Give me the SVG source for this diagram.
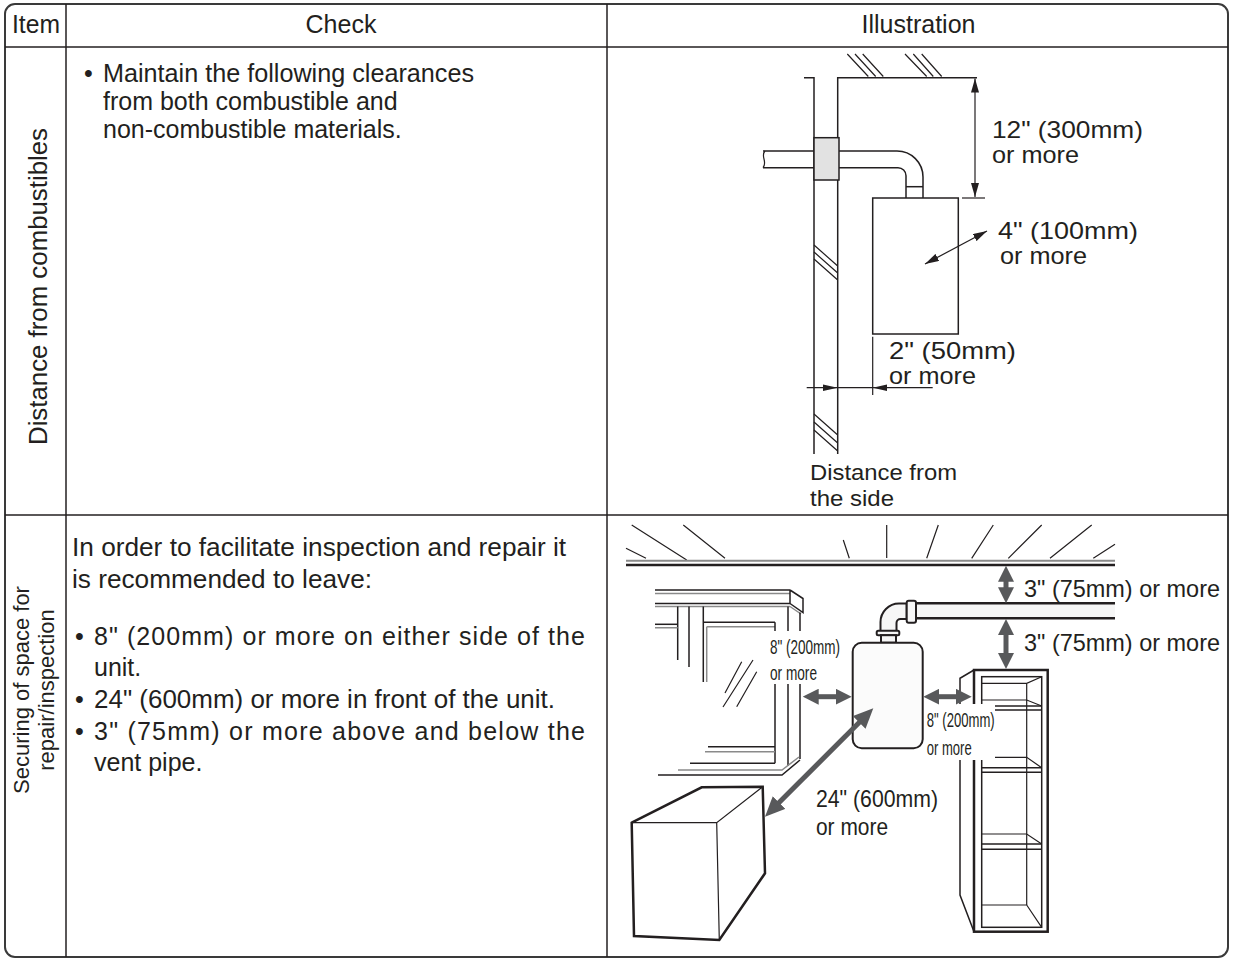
<svg xmlns="http://www.w3.org/2000/svg" width="1234" height="961" viewBox="0 0 1234 961">
<defs>
<style>
text{font-family:"Liberation Sans",Arial,Helvetica,sans-serif;fill:#231f20}
.t25{font-size:25px}
.t24{font-size:24px}
.t22{font-size:22px}
.t21{font-size:21px}
.ln{fill:none;stroke:#231f20;stroke-width:1.5}
.lt{fill:none;stroke:#231f20;stroke-width:1.2}
.gr{fill:none;stroke:#8a8a8a;stroke-width:1.5}
.thk{fill:none;stroke:#231f20;stroke-width:2.5}
.tbl{fill:none;stroke:#3a3a3a;stroke-width:2}
.big{fill:none;stroke:#58595b;stroke-width:5}
.wb{fill:#ffffff;stroke:none}
</style>
<marker id="ah" markerUnits="userSpaceOnUse" viewBox="0 0 14 8" markerWidth="14" markerHeight="8" refX="14" refY="4" orient="auto-start-reverse"><path d="M0,0 L14,4 L0,8 z" fill="#231f20"/></marker>
<marker id="bg" markerUnits="userSpaceOnUse" viewBox="0 0 16 16" markerWidth="16" markerHeight="16" refX="4" refY="8" orient="auto-start-reverse"><path d="M0,0 L16,8 L0,16 z" fill="#58595b"/></marker>
<marker id="bg2" markerUnits="userSpaceOnUse" viewBox="0 0 20 18" markerWidth="20" markerHeight="18" refX="5" refY="9" orient="auto-start-reverse"><path d="M0,0 L20,9 L0,18 z" fill="#58595b"/></marker>
</defs>

<g id="table">
<rect x="5" y="4" width="1223" height="953" rx="10" class="tbl"/>
<line x1="66" y1="4" x2="66" y2="957" class="ln"/>
<line x1="607" y1="4" x2="607" y2="957" class="ln"/>
<line x1="5" y1="47" x2="1228" y2="47" class="ln"/>
<line x1="5" y1="515" x2="1228" y2="515" class="ln"/>
</g>

<g id="header">
<text x="36" y="33" text-anchor="middle" class="t25" textLength="48" lengthAdjust="spacingAndGlyphs">Item</text>
<text x="341" y="33" text-anchor="middle" class="t25">Check</text>
<text x="918.5" y="33" text-anchor="middle" class="t25">Illustration</text>
</g>

<g id="row1-item">
<text transform="translate(47,286.5) rotate(-90)" text-anchor="middle" class="t25" textLength="317" lengthAdjust="spacingAndGlyphs">Distance from combustibles</text>
</g>

<g id="row1-check">
<text x="84" y="82" class="t25">•</text>
<text x="103" y="82" class="t25" textLength="371" lengthAdjust="spacingAndGlyphs">Maintain the following clearances</text>
<text x="103" y="110" class="t25">from both combustible and</text>
<text x="103" y="138" class="t25">non-combustible materials.</text>
</g>

<g id="row2-item">
<text transform="translate(29,690) rotate(-90)" text-anchor="middle" class="t22">Securing of space for</text>
<text transform="translate(54,690) rotate(-90)" text-anchor="middle" class="t22">repair/inspection</text>
</g>

<g id="row2-check">
<text x="72" y="556" class="t25" textLength="494" lengthAdjust="spacingAndGlyphs">In order to facilitate inspection and repair it</text>
<text x="72" y="588" class="t25" textLength="300" lengthAdjust="spacingAndGlyphs">is recommended to leave:</text>
<text x="75" y="645" class="t25">•</text>
<text x="94" y="645" class="t25" textLength="491" lengthAdjust="spacing">8" (200mm) or more on either side of the</text>
<text x="94" y="676" class="t25">unit.</text>
<text x="75" y="708" class="t25">•</text>
<text x="94" y="708" class="t25" textLength="461" lengthAdjust="spacingAndGlyphs">24" (600mm) or more in front of the unit.</text>
<text x="75" y="740" class="t25">•</text>
<text x="94" y="740" class="t25" textLength="491" lengthAdjust="spacing">3" (75mm) or more above and below the</text>
<text x="94" y="771" class="t25">vent pipe.</text>
</g>

<g id="illus1">
<g id="wall">
<path d="M804,77.7 L814,77.7 L814,454" class="ln"/>
<path d="M837.7,454 L837.7,77.7 L977,77.7" class="ln"/>
<path d="M847.3,54 L868.3,76.5 M855,54 L875.7,76.5 M862.7,54 L883.3,76.5 M905,54 L926.7,76.5 M913.3,54 L933.3,76.5 M921.7,54 L941.7,76.5" class="lt"/>
<path d="M814,245 L837.7,266 M814,252 L837.7,273 M814,259 L837.7,280 M814,414 L837.7,435 M814,422 L837.7,443 M814,430 L837.7,451" class="lt"/>
</g>
<g id="pipe">
<path d="M765,151 C760,156 768,162 763,167.7" class="lt"/>
<path d="M763,151 L814,151 M763,167.7 L814,167.7" class="ln"/>
<path d="M839,151 L897,151 A26,26 0 0 1 923,177 L923,198" class="ln"/>
<path d="M839,167.7 L898,167.7 A8,8 0 0 1 906,175.7 L906,198" class="ln"/>
<path d="M906,186.7 L923,186.7" class="ln"/>
<rect x="814" y="137.7" width="25" height="42.3" fill="#e2e2e2" stroke="#231f20" stroke-width="1.5"/>
</g>
<rect id="unit1" x="872.7" y="198" width="85.6" height="136" fill="#ffffff" class="ln"/>
<g id="dims1">
<line x1="975" y1="78.5" x2="975" y2="197" class="lt" marker-start="url(#ah)" marker-end="url(#ah)"/>
<line x1="962" y1="198" x2="985" y2="198" class="lt"/>
<line x1="925" y1="264" x2="987" y2="231" class="lt" marker-start="url(#ah)" marker-end="url(#ah)"/>
<line x1="872.7" y1="336.7" x2="872.7" y2="395" class="lt"/>
<line x1="806.7" y1="387.7" x2="932.7" y2="387.7" class="lt"/>
<path d="M823,384.5 L837.7,387.7 L823,391 Z M887,384.5 L872.7,387.7 L887,391 Z" fill="#231f20"/>
</g>
<g id="labels1">
<text x="992" y="138" class="t24" textLength="151" lengthAdjust="spacingAndGlyphs">12" (300mm)</text>
<text x="992" y="163" class="t24" textLength="87" lengthAdjust="spacingAndGlyphs">or more</text>
<text x="998" y="239" class="t24" textLength="140" lengthAdjust="spacingAndGlyphs">4" (100mm)</text>
<text x="1000" y="264" class="t24" textLength="87" lengthAdjust="spacingAndGlyphs">or more</text>
<text x="889" y="359" class="t24" textLength="127" lengthAdjust="spacingAndGlyphs">2" (50mm)</text>
<text x="889" y="384" class="t24" textLength="87" lengthAdjust="spacingAndGlyphs">or more</text>
<text x="810" y="480" class="t22" textLength="147" lengthAdjust="spacingAndGlyphs">Distance from</text>
<text x="810" y="506" class="t22" textLength="84" lengthAdjust="spacingAndGlyphs">the side</text>
</g>
</g>

<g id="illus2">
<g id="ceiling">
<path d="M626,548.3 L646,558.3 M631.7,525 L686.7,560 M683.3,525 L725,558.3 M843.3,540 L849.3,558.3 M886.7,525 L886.7,558 M938.3,525 L926.7,558.3 M993.3,525 L971.7,558.3 M1041.7,525 L1008.3,558.3 M1091.7,525 L1050,558.3 M1115,544.3 L1093.3,558.3" class="lt"/>
<line x1="626" y1="560.7" x2="1115" y2="560.7" stroke="#8a8a8a" stroke-width="2"/>
<line x1="626" y1="565" x2="1115" y2="565" stroke="#231f20" stroke-width="2.5"/>
</g>
<g id="window">
<path d="M655,590 L790,590 M655,603.5 L790,603.5" class="ln"/>
<path d="M655,593.5 L790,593.5 M655,606.5 L790,606.5" class="gr"/>
<path d="M790,590 L803,598.5 L803,612.5 L790,603.5 M790,590 L790,603.5" class="ln"/>
<path d="M790,606.5 L801,614" class="gr"/>
<path d="M677.7,606.5 L677.7,660 M689,606.5 L689,667 M703.3,606.5 L703.3,682 M703.3,622.3 L775,622.3" class="ln"/>
<path d="M706.7,626.7 L706.7,682 M706.7,626.7 L775,626.7 M655,627.7 L677.7,627.7" class="gr"/>
<path d="M655,624.3 L677.7,624.3" class="ln"/>
<path d="M775,622.3 L775,763.3 M788,606.5 L788,766 M800,612.5 L800,759" class="ln"/>
<path d="M753,660 L723,707 M741.7,661.7 L725,693 M756.7,671.7 L736.7,706.7" class="lt"/>
<path d="M708,746.7 L775,746.7 M690,763.3 L775,763.3 M658,775 L782,775 L800,760" class="ln"/>
<path d="M705,751.7 L775,751.7 M678,770 L782,770 L799,757" class="gr"/>
<rect x="767" y="631" width="76" height="53" class="wb"/>
</g>
<g id="box">
<path d="M631.7,822.7 L701.7,787.3 L762.7,786.7 L765,873.3 L719.3,940 L634,936 Z" class="thk" fill="#ffffff"/>
<path d="M631.7,822.7 L716.7,822.7 L762.7,786.7 M716.7,822.7 L719.3,940" class="lt"/>
</g>
<g id="shelf">
<path d="M974,670 L960,678.3 L960,895 L974,931.7" class="ln" stroke-width="2"/>
<rect x="974" y="670" width="73.7" height="261.7" class="thk" fill="#ffffff"/>
<rect x="981.7" y="676.7" width="60" height="250.6" class="ln" stroke-width="2"/>
<path d="M1026.7,683.3 L1026.7,905 M981.7,683.3 L1026.7,683.3 L1041.7,676.7" class="lt"/>
<path d="M981.7,700 L1026.7,700 L1041.7,706 M981.7,757.3 L1026.7,757.3 L1041.7,767.7 M981.7,834 L1026.7,834 L1041.7,844 M981.7,905 L1026.7,905 L1041.7,927.3" class="lt"/>
<path d="M981.7,706 L1041.7,706 M981.7,710 L1041.7,710 M981.7,767.7 L1041.7,767.7 M981.7,772.3 L1041.7,772.3 M981.7,844 L1041.7,844 M981.7,849.3 L1041.7,849.3" class="ln"/>
<rect x="925" y="704" width="70" height="56" class="wb"/>
</g>
<g id="vent">
<rect x="916" y="603.3" width="199" height="15" fill="#f6f6f6" stroke="none"/>
<path d="M916,603.3 L1115,603.3 M916,618.3 L1115,618.3" class="thk"/>
<path d="M906.7,603.5 L899,603.5 A18.5,18.5 0 0 0 880.5,622 L880.5,631 L896.5,631 L896.5,623 A4,4 0 0 1 900.5,619 L906.7,619 Z" fill="#f6f6f6" stroke="#231f20" stroke-width="2"/>
<rect x="906.7" y="600.7" width="9.3" height="22" rx="2" fill="#f6f6f6" stroke="#231f20" stroke-width="2"/>
<rect x="876.7" y="630.7" width="22.6" height="4.5" rx="1.5" fill="#f6f6f6" stroke="#231f20" stroke-width="2"/>
<rect x="881" y="635.2" width="15" height="7.5" fill="#f6f6f6" stroke="#231f20" stroke-width="2"/>
</g>
<rect id="unit2" x="852.7" y="642.7" width="70" height="105.6" rx="9" fill="#fbfbfb" stroke="#231f20" stroke-width="2"/>
<g id="arrows2">
<line x1="814.7" y1="696.7" x2="839.7" y2="696.7" class="big" marker-start="url(#bg)" marker-end="url(#bg)"/>
<line x1="935.3" y1="696.7" x2="959.7" y2="696.7" class="big" marker-start="url(#bg)" marker-end="url(#bg)"/>
<line x1="1006" y1="577.7" x2="1006" y2="591.3" class="big" marker-start="url(#bg)" marker-end="url(#bg)"/>
<line x1="1006" y1="631" x2="1006" y2="657" class="big" marker-start="url(#bg)" marker-end="url(#bg)"/>
<line x1="862.7" y1="718.9" x2="775.6" y2="806.1" class="big" marker-start="url(#bg2)" marker-end="url(#bg2)"/>
</g>
<g id="labels2">
<text x="770" y="654" class="t21" textLength="70" lengthAdjust="spacingAndGlyphs">8" (200mm)</text>
<text x="770" y="680" class="t21" textLength="47" lengthAdjust="spacingAndGlyphs">or more</text>
<text x="926.7" y="727" class="t21" textLength="68" lengthAdjust="spacingAndGlyphs">8" (200mm)</text>
<text x="926.7" y="755" class="t21" textLength="45" lengthAdjust="spacingAndGlyphs">or more</text>
<text x="816" y="807" class="t24" textLength="122" lengthAdjust="spacingAndGlyphs">24" (600mm)</text>
<text x="816" y="835" class="t24" textLength="72" lengthAdjust="spacingAndGlyphs">or more</text>
<text x="1024" y="597" class="t24" textLength="196" lengthAdjust="spacingAndGlyphs">3" (75mm) or more</text>
<text x="1024" y="651" class="t24" textLength="196" lengthAdjust="spacingAndGlyphs">3" (75mm) or more</text>
</g>
</g>
</svg>
